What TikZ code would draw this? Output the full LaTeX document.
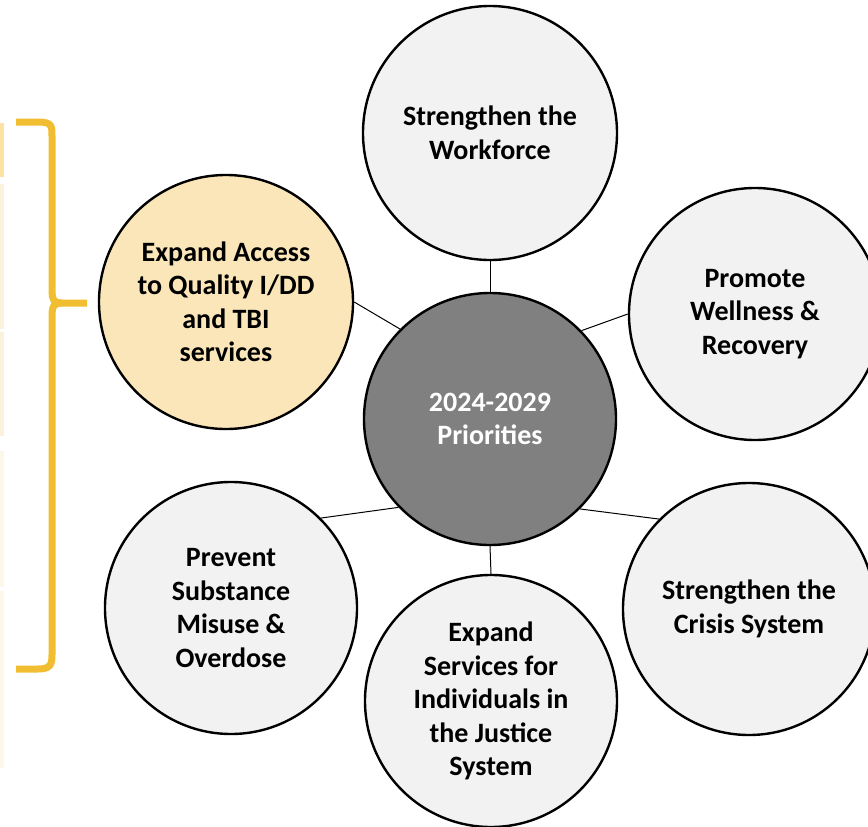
\documentclass[tikz,border=0pt]{standalone}
\usepackage{fontspec}
\setmainfont{Carlito}
\definecolor{circfill}{HTML}{F2F2F2}
\definecolor{ctrfill}{HTML}{808080}
\definecolor{accfill}{HTML}{FAE6B8}
\definecolor{gold}{HTML}{F0BE30}
\definecolor{stripA}{HTML}{FCE3A4}
\definecolor{stripB}{HTML}{FCF1DA}
\definecolor{stripC}{HTML}{FDF7EA}
\tikzset{
  bubble/.style={circle, draw=black, line width=2.4pt, fill=circfill, inner sep=0pt,
    minimum size=#1, align=center, font=\fontsize{28}{33.5}\selectfont\bfseries},
  link/.style={draw=black, line width=1pt},
  strip/.style={draw=none}
}
\begin{document}
\begin{tikzpicture}[x=1pt,y=-1pt]
\useasboundingbox (0,0) rectangle (868,827);
% faint strips at left edge
\fill[stripA] (0,123) rectangle (3.5,177);
\fill[stripB] (0,184) rectangle (3.5,329);
\fill[stripB] (0,332) rectangle (3.5,436);
\fill[stripC] (0,451) rectangle (3.5,587);
\fill[stripC] (0,591) rectangle (3.5,768);
% bracket
\draw[gold, line width=7pt]
  (16,122) -- (38,122) .. controls (52,122) and (52,126) .. (52,136)
  -- (52,290) .. controls (52,300) and (54,303) .. (62,303) -- (87,303);
\draw[gold, line width=7pt]
  (62,303) .. controls (54,303) and (52,306) .. (52,316)
  -- (52,655) .. controls (52,665) and (50,669) .. (38,669) -- (16,669);
% circles
\node[bubble=254pt] (top) at (490,133) {Strengthen the\\Workforce};
\node[bubble=252pt] (wel) at (755,314) {Promote\\Wellness \&\\Recovery};
\node[bubble=252pt] (cri) at (749,609) {Strengthen the\\Crisis System};
\node[bubble=252pt] (jus) at (491,701) {Expand\\Services for\\Individuals in\\the Justice\\System};
\node[bubble=252pt] (sub) at (231,608) {Prevent\\Substance\\Misuse \&\\Overdose};
\node[bubble=254pt, fill=accfill] (acc) at (226,302) {Expand Access\\to Quality I/DD\\and TBI\\services};
\node[bubble=252pt, fill=ctrfill, text=white] (ctr) at (490,419) {2024-2029\\Priorities};
% connectors
\draw[link] (ctr.90) -- (top.270);
\draw[link] (ctr.44) -- (wel.180);
\draw[link] (ctr.-45) -- (cri.135);
\draw[link] (ctr.270) -- (jus.90);
\draw[link] (ctr.224) -- (sub.45);
\draw[link] (ctr.135) -- (acc.0);
\end{tikzpicture}
\end{document}
